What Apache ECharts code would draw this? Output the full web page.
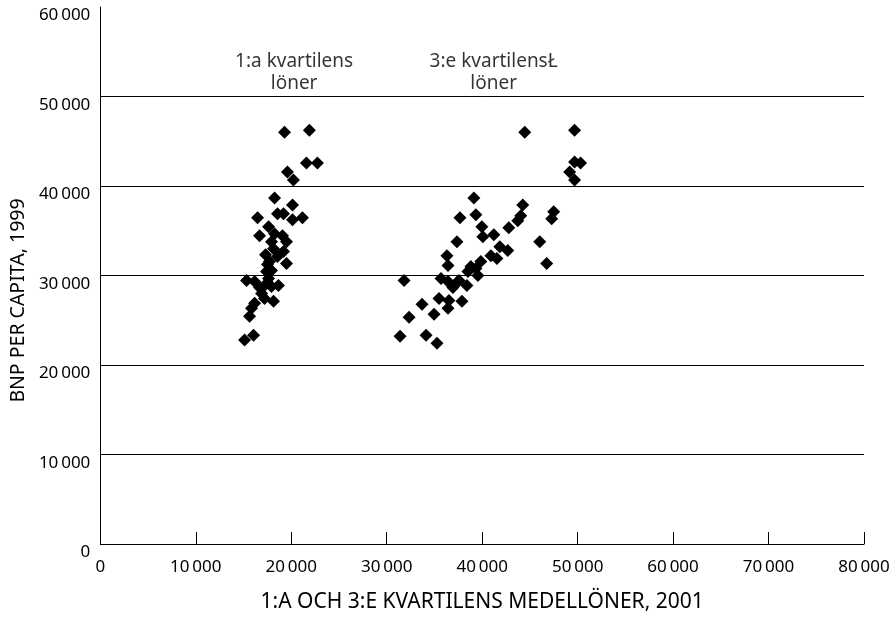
<!DOCTYPE html>
<html>
<head>
<meta charset="utf-8">
<script src="https://cdn.jsdelivr.net/npm/echarts@6/dist/echarts.min.js"></script>
<style>html,body{margin:0;padding:0;background:#fff}#c{width:896px;height:618px}</style>
</head>
<body>
<div id="c"></div>
<script>
// 1:a kvartilens löner (x = lön, y = BNP per capita)
const q1Wages = [19290,21900,21590,22740,19600,20230,18250,20130,18560,19190,16470,20130,21170,17620,18250,16680,19080,17930,19500,17310,19190,19500,17720,17930,17410,17620,15320,16160,17200,18660,16890,17200,18140,16160,15840,15630,16050,15110,18560,17930,16680,18140,17510];
const q1Gdp   = [46000,46220,42560,42560,41560,40670,38670,37890,36890,36890,36440,36220,36440,35440,34670,34440,34440,33780,33780,32330,32670,31330,31560,30560,30440,29670,29440,29330,28890,28890,28000,27440,27110,26890,26330,25440,23330,22780,32110,28780,28670,33000,31220];
// 3:e kvartilens löner
const q3Wages = [44460,49680,49680,50310,49160,49680,39130,44250,39340,37670,44040,43730,47490,47280,39970,42790,41220,40070,37360,46030,41850,42680,40910,41540,36310,39860,46760,36420,39340,38510,39550,31820,35690,36420,37460,36940,38400,35480,36520,37880,36420,33700,34960,32340,31400,34120,35270,37570,38820];
const q3Gdp   = [46000,46220,42670,42560,41560,40670,38670,37890,36780,36440,36670,36110,37110,36330,35440,35330,34560,34330,33780,33780,33220,32780,32220,31890,32220,31560,31330,31110,30780,30440,30000,29440,29670,29330,29330,28670,28890,27440,27220,27110,26330,26780,25670,25330,23220,23330,22440,29440,31000];
const xTicks = [0,10000,20000,30000,40000,50000,60000,70000,80000];
const yTicks = [0,10000,20000,30000,40000,50000,60000];
const labelTexts = ['1:a kvartilens\nlöner','3:e kvartilensŁ\nlöner'];
const labelPos = [[20300,52700],[41200,52700]];
const xTitle = '1:A OCH 3:E KVARTILENS MEDELLÖNER, 2001';
const yTitle = 'BNP PER CAPITA, 1999';

const fmt = v => v >= 10000 ? String(Math.floor(v/1000)) + '\u2009' + String(v % 1000).padStart(3,'0') : String(v);
const FONT = 'Noto Sans';

const chart = echarts.init(document.getElementById('c'), null, {renderer:'canvas'});
chart.setOption({
  animation:false,
  backgroundColor:'#fff',
  grid:{left:98, right:32, top:7, bottom:72, containLabel:false},
  xAxis:{
    type:'value', min:xTicks[0], max:xTicks[xTicks.length-1], interval:10000,
    axisLine:{show:true, onZero:false, lineStyle:{color:'#000', width:1}},
    axisTick:{show:true, inside:true, length:12, lineStyle:{color:'#000', width:1}},
    splitLine:{show:false},
    axisLabel:{formatter:fmt, color:'#000', fontFamily:FONT, fontSize:17, margin:15},
    name:xTitle, nameLocation:'middle', nameGap:48,
    nameTextStyle:{color:'#000', fontFamily:FONT, fontSize:21}
  },
  yAxis:{
    type:'value', min:yTicks[0], max:yTicks[yTicks.length-1], interval:10000,
    axisLine:{show:true, lineStyle:{color:'#000', width:1}},
    axisTick:{show:false},
    splitLine:{show:true, showMaxLine:false, lineStyle:{color:'#000', width:1}},
    axisLabel:{formatter:fmt, color:'#000', fontFamily:FONT, fontSize:17, margin:10, verticalAlign:'top'},
    name:yTitle, nameLocation:'middle', nameGap:72, nameRotate:90,
    nameTextStyle:{color:'#000', fontFamily:FONT, fontSize:19.5, padding:[0,50,0,0]}
  },
  series:[
    {type:'scatter', symbol:'diamond', symbolSize:13, itemStyle:{color:'#000', opacity:1},
     data:q1Wages.map((x,i)=>[x,q1Gdp[i]])},
    {type:'scatter', symbol:'diamond', symbolSize:13, itemStyle:{color:'#000', opacity:1},
     data:q3Wages.map((x,i)=>[x,q3Gdp[i]])},
    {type:'scatter', symbolSize:0, silent:true,
     data:labelPos.map((p,i)=>({value:p, label:{formatter:labelTexts[i]}})),
     label:{show:true, position:'inside', color:'#000', fontFamily:FONT, fontSize:19, lineHeight:22, align:'center'}}
  ]
});
</script>
</body>
</html>
